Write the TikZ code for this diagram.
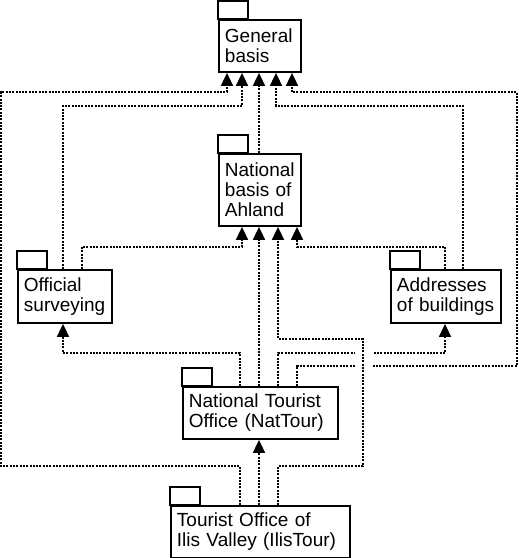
\documentclass[tikz,border=0pt]{standalone}
\usepackage{fontspec}
\setmainfont{Liberation Sans}
\usetikzlibrary{arrows.meta,positioning,calc}

\begin{document}
\begin{tikzpicture}[x=1pt,y=1pt,
  pkg/.style={draw, line width=1.9pt, anchor=north west, align=left,
    inner xsep=6pt, inner ysep=0pt, font=\fontsize{19}{20}\selectfont},
  tab/.style={draw, line width=1.9pt},
  dep/.style={draw, line width=1.7pt, dash pattern=on 2pt off 1.3pt,
    -{Triangle[width=12pt,length=13pt]}}]
\useasboundingbox (0,0) rectangle (519,558);

% Packages
\node[pkg, text width=70pt, minimum height=52pt] (gb) at (218,539) {General\\basis};
\node[pkg, text width=70pt, minimum height=72pt] (nb) at (218,405) {National\\basis~of\\Ahland};
\node[pkg, text width=82pt, minimum height=53pt] (os) at (17,289) {Official\\surveying};
\node[pkg, text width=98pt, minimum height=53pt] (ab) at (390,289) {Addresses\\of~buildings};
\node[pkg, text width=143pt, minimum height=52pt] (nt) at (182,172) {National~Tourist\\Office~(NatTour)};
\node[pkg, text width=167pt, minimum height=52pt] (it) at (170,53) {Tourist~Office~of\\Ilis~Valley~(IlisTour)};

% Tabs
\foreach \n in {gb,nb,os,ab,nt,it}
  \draw[tab] (\n.north west) rectangle ++(30,18);

% Dependencies to General basis
\draw[dep] ([xshift=70]it.north west) -- ++(0,39) -| (1,466) -| ([xshift=9]gb.south west);
\draw[dep] ([xshift=46]os.north west) -- ++(0,163) -| ([xshift=24]gb.south west);
\draw[dep] ([xshift=41]nb.north west) -- ([xshift=41]gb.south west);
\draw[dep] ([xshift=73]ab.north west) -- ++(0,163) -| ([xshift=58]gb.south west);
\draw[dep] ([xshift=115]nt.north west) -- ++(0,20) -| (517,466) -| ([xshift=74]gb.south west);

% Dependencies to National basis
\draw[dep] ([xshift=65]os.north west) -- ++(0,22) -| ([xshift=24]nb.south west);
\draw[dep] ([xshift=77]nt.north west) -- ([xshift=41]nb.south west);
\draw[dep] ([xshift=55]ab.north west) -- ++(0,22) -| ([xshift=79]nb.south west);

% Other dependencies
\draw[dep] ([xshift=89]it.north west) -- ([xshift=77]nt.south west);
\draw[dep] ([xshift=58]nt.north west) -- ++(0,33) -| ([xshift=46]os.south west);
\draw[dep] ([xshift=96]nt.north west) -- ++(0,33) -| ([xshift=55]ab.south west);

% Line hops
\fill[white] (355,186) rectangle (372,211);
\draw[dep] ([xshift=108]it.north west) -- ++(0,39) -| (363,219) -| ([xshift=60]nb.south west);

\end{tikzpicture}
\end{document}
